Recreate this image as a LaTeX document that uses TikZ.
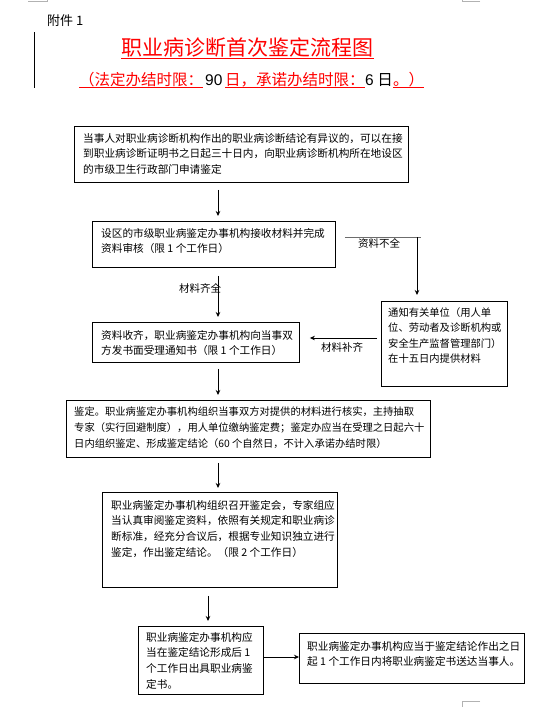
\documentclass[tikz,border=0pt]{standalone}
\usepackage{fontspec}
\usetikzlibrary{arrows.meta}
\newfontfamily\cjk{Noto Sans CJK SC}
\newfontfamily\latn{Liberation Sans}
\tikzset{
  boxnode/.style={draw, line width=0.9pt, inner sep=0pt, anchor=north west},
  txt/.style={anchor=north west, inner sep=0pt, align=left, font=\cjk\fontsize{10.65}{15.6}\selectfont},
  lbl/.style={inner sep=0pt, font=\cjk\fontsize{10.5}{12}\selectfont},
  arr/.style={-{Stealth[length=5pt,width=4.5pt]}, line width=0.8pt},
  uline/.style={red, line width=0.7pt},
  corner/.style={gray!60, line width=0.7pt},
  sub/.style={inner sep=0pt, anchor=base west, font=\cjk\fontsize{15.5}{16}\selectfont}
}
\begin{document}
\begin{tikzpicture}[x=1pt,y=-1pt]
\useasboundingbox[fill=white] (0,0) rectangle (537,707);
% page corner marks and change bar
\draw[corner] (28,1.5) -- (47,1.5) -- (47,0);
\draw[corner] (480,1.5) -- (462,1.5) -- (462,0);
\draw[corner] (480,701) -- (462,701) -- (462,707);
\draw[line width=1pt] (34,32) -- (34,88);
% header
\node[inner sep=0pt, anchor=west, font=\cjk\fontsize{13}{14}\selectfont] (att) at (47,21) {附件 1};
\node[inner sep=0pt, anchor=base, text=red, font=\cjk\fontsize{21}{22}\selectfont] (title) at (247.5,55.5) {职业病诊断首次鉴定流程图};
\coordinate (ul1) at (0,58.3);
\draw[uline] (title.west |- ul1) -- (title.east |- ul1);
\node[sub, text=red] (s1) at (79,85) {（法定办结时限：};
\node[sub, font=\latn\fontsize{15.5}{16}\selectfont] (s2) at (205,85) {90};
\node[sub, text=red] (s3) at (225,85) {日，承诺办结时限：};
\node[sub] (s4) at (365,85) {{\latn 6} 日};
\node[sub, text=red] (s5) at (393,85) {。）};
\coordinate (ul2) at (0,87.5);
\draw[uline] (s1.west |- ul2) -- (s1.east |- ul2);
\draw[uline] (s3.west |- ul2) -- (s3.east |- ul2);
\draw[uline] (s5.west |- ul2) -- (s5.east |- ul2);
% boxes
\node[boxnode, minimum width=334pt, minimum height=56pt] (b1) at (74,126) {};
\node[txt] (t1) at (83,133) {当事人对职业病诊断机构作出的职业病诊断结论有异议的，可以在接\\到职业病诊断证明书之日起三十日内，向职业病诊断机构所在地设区\\的市级卫生行政部门申请鉴定};
\node[boxnode, minimum width=243pt, minimum height=46pt] (b2) at (92,221) {};
\node[txt] (t2) at (101,228) {设区的市级职业病鉴定办事机构接收材料并完成\\资料审核（限 1 个工作日）};
\node[boxnode, minimum width=207pt, minimum height=40pt] (b3) at (92,322) {};
\node[txt] (t3) at (101,330) {资料收齐，职业病鉴定办事机构向当事双\\方发书面受理通知书（限 1 个工作日）};
\node[boxnode, minimum width=126pt, minimum height=85pt] (b8) at (381,301) {};
\node[txt, font=\cjk\fontsize{10.3}{15.6}\selectfont] (t8) at (388,307) {通知有关单位（用人单\\位、劳动者及诊断机构或\\安全生产监督管理部门）\\在十五日内提供材料};
\node[boxnode, minimum width=364pt, minimum height=57pt] (b4) at (66,400) {};
\node[txt, font=\cjk\fontsize{10.3}{15.6}\selectfont] (t4) at (74,407) {鉴定。职业病鉴定办事机构组织当事双方对提供的材料进行核实，主持抽取\\专家（实行回避制度），用人单位缴纳鉴定费；鉴定办应当在受理之日起六十\\日内组织鉴定、形成鉴定结论（60 个自然日，不计入承诺办结时限）};
\node[boxnode, minimum width=235pt, minimum height=95pt] (b5) at (102,492) {};
\node[txt] (t5) at (111,500) {职业病鉴定办事机构组织召开鉴定会，专家组应\\当认真审阅鉴定资料，依照有关规定和职业病诊\\断标准，经充分合议后，根据专业知识独立进行\\鉴定，作出鉴定结论。（限 2 个工作日）};
\node[boxnode, minimum width=125pt, minimum height=68pt] (b6) at (138,626) {};
\node[txt] (t6) at (146,632) {职业病鉴定办事机构应\\当在鉴定结论形成后 1\\个工作日出具职业病鉴\\定书。};
\node[boxnode, minimum width=225pt, minimum height=50pt] (b7) at (299,633) {};
\node[txt] (t7) at (307,641) {职业病鉴定办事机构应当于鉴定结论作出之日\\起 1 个工作日内将职业病鉴定书送达当事人。};
% connectors
\coordinate (spine) at (218,0);
\coordinate (spine2) at (208,0);
\draw[arr, shorten <=7pt, shorten >=5pt] (spine |- b1.south) -- (spine |- b2.north);
\draw[arr, shorten <=8pt, shorten >=5pt] (spine |- b2.south) -- (spine |- b3.north);
\node[lbl] (l1) at (200,288) {材料齐全};
\draw[arr, shorten <=6pt, shorten >=5pt] (spine |- b3.south) -- (spine |- b4.north);
\draw[arr, shorten <=5pt, shorten >=4pt] (spine |- b4.south) -- (spine |- b5.north);
\draw[arr, shorten <=8pt, shorten >=5pt] (spine2 |- b5.south) -- (spine2 |- b6.north);
\coordinate (h6) at (0,657);
\draw[arr] (b6.east |- h6) -- (b7.west |- h6);
\coordinate (nq) at (417,237);
\draw[line width=0.8pt, gray!85!black] ([xshift=9pt]b2.east |- nq) -- ([xshift=4pt]nq);
\draw[arr, shorten >=6pt] (nq) -- (nq |- b8.north);
\node[lbl] (l2) at (379,243.5) {资料不全};
\coordinate (bq) at (0,338);
\draw[arr, shorten <=4pt, shorten >=10pt] (b8.west |- bq) -- (b3.east |- bq);
\node[lbl] (l3) at (342,347) {材料补齐};
\end{tikzpicture}
\end{document}
